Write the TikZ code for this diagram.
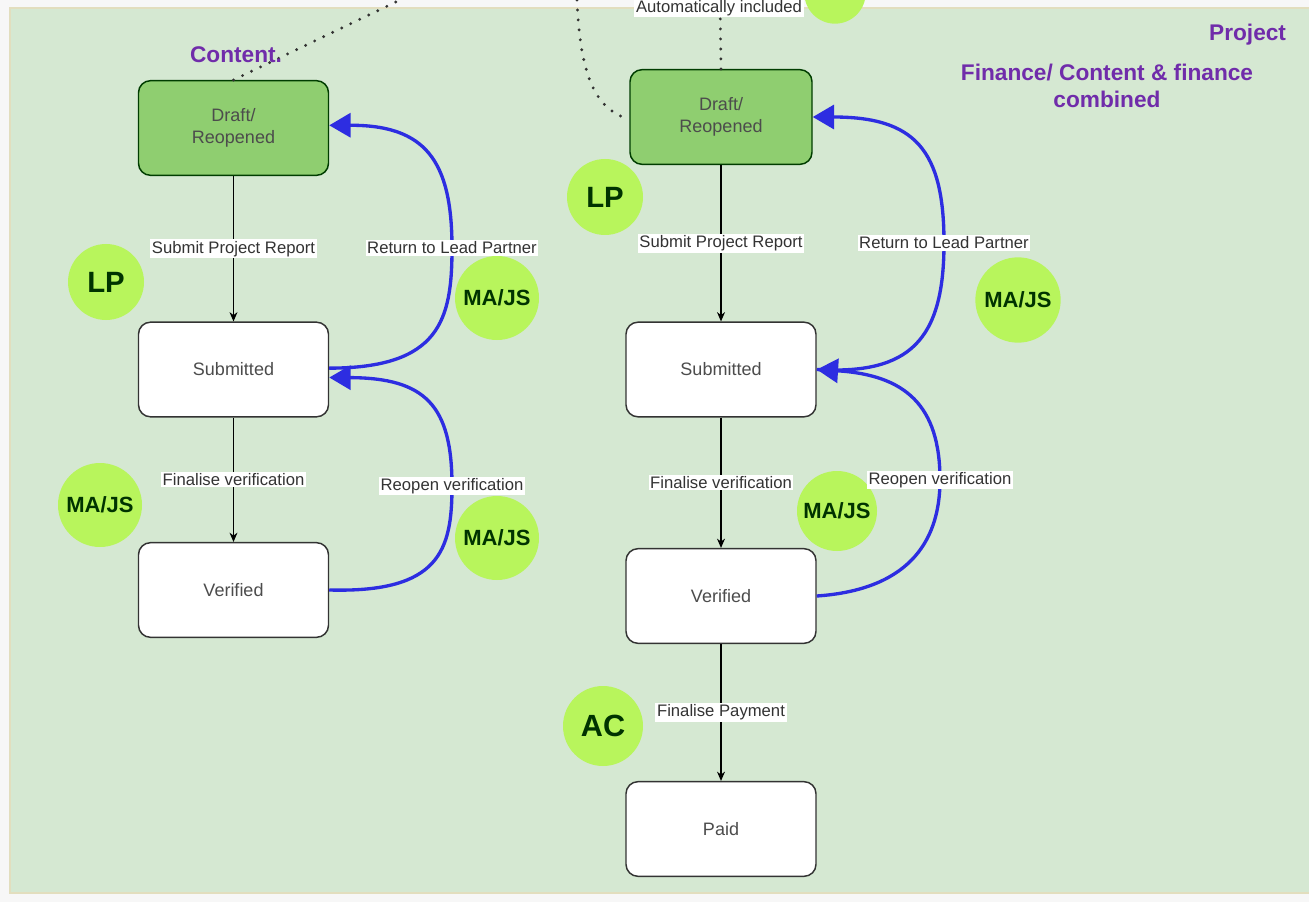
\documentclass[tikz,border=0pt]{standalone}
\usepackage{fontspec}
\setmainfont{Liberation Sans}
\usetikzlibrary{arrows.meta,positioning}
\definecolor{bggreen}{RGB}{213,232,210}
\definecolor{boxgreen}{RGB}{143,206,112}
\definecolor{lime}{RGB}{184,245,92}
\definecolor{flowblue}{RGB}{45,45,225}
\definecolor{purp}{RGB}{112,44,170}
\definecolor{frame}{RGB}{226,222,190}

\begin{document}
\begin{tikzpicture}[x=0.75pt, y=-0.75pt, thick,
    state/.style = {draw=black!80, line width=1.1pt, rounded corners=9pt, fill=white, minimum width=142.5pt, minimum height=71pt, align=center, font=\fontsize{13.5}{17}\selectfont, text=black!70},
    draft/.style = {state, fill=boxgreen, draw=black!60!green!60!black},
    role/.style = {circle, fill=lime, inner sep=0pt, font=\bfseries\fontsize{16.5}{19}\selectfont, text=black!80!green},
    lbl/.style = {fill=white, inner sep=1.2pt, font=\fontsize{12.5}{14}\selectfont, text=black!80},
    flow/.style = {-{Stealth[length=7pt,width=6pt]}, line width=0.8pt},
    back/.style = {-{Triangle[length=16pt,width=18pt]}, draw=flowblue, line width=2.5pt},
    note/.style = {font=\bfseries\fontsize{17}{20}\selectfont, text=purp, align=center},
    link/.style = {line width=2.4pt, line cap=round, dash pattern=on 0pt off 7.5pt, black!80}]
    \clip (0,0) rectangle (1309,902);
    \fill[black!3] (0,0) rectangle (1309,902);
    \filldraw[fill=bggreen, draw=frame, line width=1pt] (10,8) rectangle (1320,893);

    % content column
    \node[draft] (draftL) at (233.5,128) {Draft/\\Reopened};
    \node[state] (subL) at (233.5,369.5) {Submitted};
    \node[state] (verL) at (233.5,590) {Verified};
    \node[role, minimum size=57pt, font=\bfseries\fontsize{22}{24}\selectfont] (lpL) at (106,282) {LP};
    \node[role, minimum size=63pt] (maL) at (100,505) {MA/JS};
    \node[role, minimum size=63pt] (maL2) at (497,298) {MA/JS};
    \node[role, minimum size=63pt] (maL3) at (497,538) {MA/JS};
    \draw[flow] (draftL) -- node[lbl] {Submit Project Report} (subL);
    \draw[flow] (subL) -- node[lbl] {Finalise verification} (verL);
    \draw[back] ([yshift=1pt]subL.east) .. controls (440,368) and (452,320) .. (452,248) node[lbl] {Return to Lead Partner} .. controls (452,160) and (425,125) .. ([yshift=2pt]draftL.east);
    \draw[back] (verL.east) .. controls (440,593) and (452,550) .. (452,486) node[lbl] {Reopen verification} .. controls (452,405) and (425,378) .. ([yshift=-6pt]subL.east);
    \draw[link] (draftL.north) -- (400,0);
    \node[note] (content) at (236,55) {Content.};

    % finance column
    \node[draft, minimum width=136.5pt] (draftR) at (721,117) {Draft/\\Reopened};
    \node[state] (subR) at (721,369.5) {Submitted};
    \node[state] (verR) at (721,596) {Verified};
    \node[state] (paid) at (721,829) {Paid};
    \node[role, minimum size=57pt, font=\bfseries\fontsize{22}{24}\selectfont] (lpR) at (605,197) {LP};
    \node[role, minimum size=64pt] (maR) at (1018,300) {MA/JS};
    \node[role, minimum size=60pt] (maR2) at (837,511) {MA/JS};
    \node[role, minimum size=60pt, font=\bfseries\fontsize{23}{25}\selectfont] (ac) at (603,726) {AC};
    \draw[flow] (draftR) -- node[lbl] {Submit Project Report} (subR);
    \draw[flow] (subR) -- node[lbl] {Finalise verification} (verR);
    \draw[flow] (verR) -- node[lbl] {Finalise Payment} (paid);
    \draw[back] (subR.east) .. controls (910,375) and (944,340) .. (944,243) node[lbl] {Return to Lead Partner} .. controls (944,150) and (915,117) .. (draftR.east);
    \draw[back] (verR.east) .. controls (905,590) and (940,545) .. (940,480) node[lbl] {Reopen verification} .. controls (940,405) and (905,375) .. (subR.east);
    \draw[link] (draftR.north) -- (720,0);
    \draw[link] (577,0) .. controls (580,75) and (595,105) .. ([xshift=-5pt]draftR.west);
    \node[role, minimum size=46pt] (top) at (835,-7) {};
    \node[lbl] (auto) at (719,8) {Automatically included};

    \node[note, anchor=east] (project) at (1291,35) {Project};
    \node[note] (finance) at (1107,86) {Finance/ Content \& finance\\combined};
\end{tikzpicture}
\end{document}
